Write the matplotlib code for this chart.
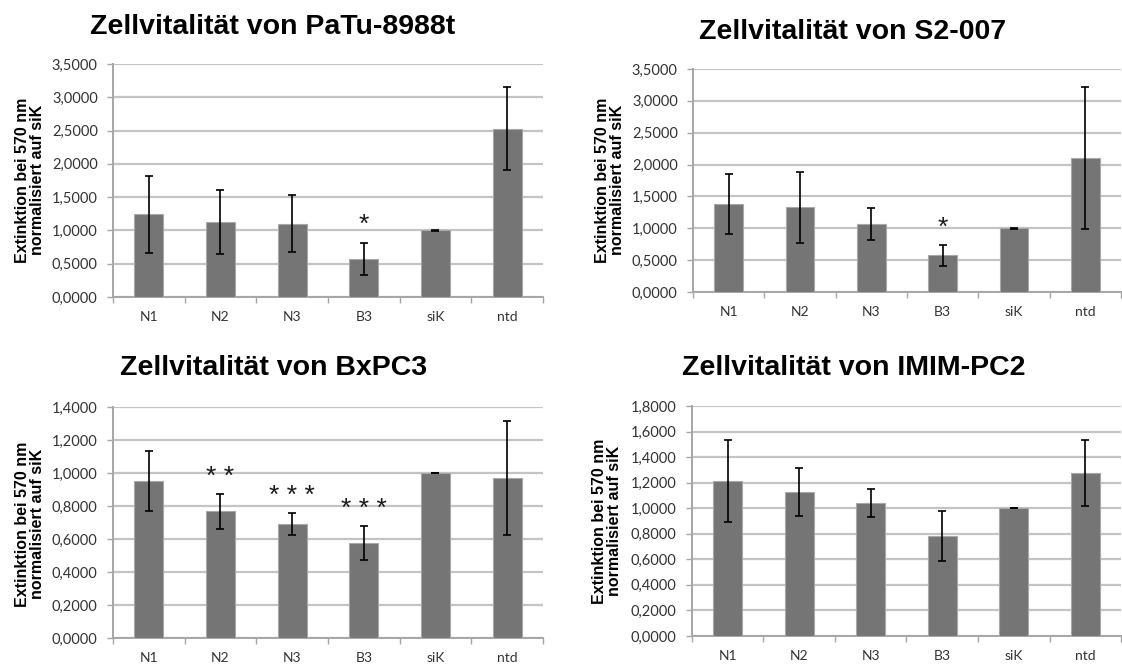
#!/usr/bin/env python3
import numpy as np
import matplotlib
matplotlib.use('Agg')
import matplotlib.pyplot as plt
from matplotlib.ticker import FuncFormatter, MultipleLocator, FixedLocator

categories = ['N1', 'N2', 'N3', 'B3', 'siK', 'ntd']

titles = [
    'Zellvitalität von PaTu-8988t',
    'Zellvitalität von S2-007',
    'Zellvitalität von BxPC3',
    'Zellvitalität von IMIM-PC2',
]

patu_means = [1.245, 1.13, 1.10, 0.573, 1.0, 2.53]
patu_err = [0.58, 0.48, 0.43, 0.245, 0.005, 0.62]
patu_stars = ['', '', '', '*', '', '']

s2_means = [1.38, 1.33, 1.063, 0.574, 1.0, 2.105]
s2_err = [0.465, 0.56, 0.25, 0.17, 0.005, 1.115]
s2_stars = ['', '', '', '*', '', '']

bx_means = [0.952, 0.767, 0.690, 0.573, 1.0, 0.970]
bx_err = [0.18, 0.105, 0.067, 0.103, 0.002, 0.345]
bx_stars = ['', '* *', '* * *', '* * *', '', '']

imim_means = [1.213, 1.127, 1.038, 0.783, 1.0, 1.273]
imim_err = [0.32, 0.19, 0.11, 0.195, 0.002, 0.258]
imim_stars = ['', '', '', '', '', '']

ylims = [3.5, 3.5, 1.4, 1.8]
ysteps = [0.5, 0.5, 0.2, 0.2]

ylabel = 'Extinktion bei 570 nm\nnormalisiert auf siK'

W, H = 1122, 670
fig = plt.figure(figsize=(W / 100, H / 100), dpi=100)


def px_box(left, right, top, bottom):
    return [left / W, 1 - bottom / H, (right - left) / W, (bottom - top) / H]


boxes = [
    px_box(113, 543, 64, 297),
    px_box(693, 1121, 69, 292),
    px_box(113, 543, 407, 638),
    px_box(692, 1121, 406, 636),
]
title_pos = [(273, 27), (853, 32), (274, 368), (854, 368)]
ylabel_pos = [(30, 180), (610, 180), (30, 524), (607, 521)]

data = [
    (patu_means, patu_err, patu_stars),
    (s2_means, s2_err, s2_stars),
    (bx_means, bx_err, bx_stars),
    (imim_means, imim_err, imim_stars),
]

tick_font = 'Lato'
grid_col = '#c4c4c4'
axis_col = '#a6a6a6'

for i, (means, err, stars) in enumerate(data):
    ax = fig.add_axes(boxes[i])
    x = np.arange(len(categories))
    ax.bar(x, means, width=0.4, color='#757575', edgecolor='#a8a8a8',
           linewidth=0.8, zorder=3)
    ax.errorbar(x, means, yerr=err, fmt='none', ecolor='black',
                elinewidth=1.2, capsize=3, capthick=1.2, zorder=4)
    for xi, m, e, s in zip(x, means, err, stars):
        if s:
            ax.text(xi, m + e + 0.085 * ylims[i], s, ha='center',
                    va='center_baseline', fontsize=19,
                    family='Liberation Sans', color='#1a1a1a', zorder=5)

    ax.set_xlim(-0.5, len(categories) - 0.5)
    ax.set_ylim(0, ylims[i])
    ax.yaxis.set_major_locator(MultipleLocator(ysteps[i]))
    ax.yaxis.set_major_formatter(
        FuncFormatter(lambda v, p: f'{v:.4f}'.replace('.', ',')))
    ax.yaxis.grid(True, color=grid_col, linewidth=1.6, zorder=0)
    ax.set_axisbelow(True)

    ax.set_xticks(x)
    ax.set_xticklabels(categories)
    ax.xaxis.set_minor_locator(FixedLocator(np.arange(-0.5, len(categories), 1.0)))
    ax.tick_params(axis='x', which='major', length=0, pad=10,
                   labelsize=10, labelcolor='#333333')
    ax.tick_params(axis='x', which='minor', length=4, width=1, color=axis_col,
                   direction='out')
    ax.tick_params(axis='y', length=4, width=1, color=axis_col, pad=7,
                   labelsize=10.5, labelcolor='#333333')
    for lab in ax.get_xticklabels() + ax.get_yticklabels():
        lab.set_family(tick_font)

    for side in ('top', 'right'):
        ax.spines[side].set_visible(False)
    for side in ('left', 'bottom'):
        ax.spines[side].set_color(axis_col)
        ax.spines[side].set_linewidth(1.4)

    tx, ty = title_pos[i]
    fig.text(tx / W, 1 - ty / H, titles[i], ha='center', va='center',
             fontsize=20.5, fontweight='bold', family='Liberation Sans')
    lx, ly = ylabel_pos[i]
    fig.text(lx / W, 1 - ly / H, ylabel, ha='center', va='center',
             rotation=90, multialignment='center', fontsize=11.5,
             fontweight='bold', family='Liberation Sans', linespacing=1.05)

fig.savefig('out.png', dpi=100, facecolor='white')
